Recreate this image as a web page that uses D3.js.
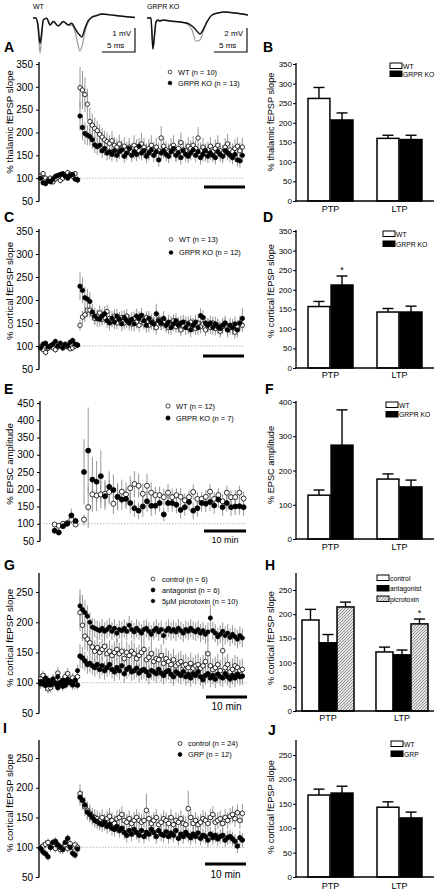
<!DOCTYPE html>
<html><head><meta charset="utf-8">
<script src="https://cdn.jsdelivr.net/npm/d3@7"></script>
<style>body{margin:0;background:#fff}svg{display:block}</style>
</head><body><svg id="c" width="440" height="892"></svg>
<script>
// ---------------- DATA ----------------
const barCategories = ["PTP", "LTP"];
const sampleIntervalMin = 0.6;           // time between sweeps (min)
const nBaseline = 16, nPost = 67;
const eBaseTimes = [-7, -6, -5, -4, -3, -2];   // panel E sampling (min)
const eNPost = 39;

// example traces (time in ms, voltage in mV)
const traceWT_t   = [0,0.45,0.76,1.06,1.29,1.56,2.08,2.58,3.08,3.83,4.59,5.35,5.86,6.36,6.8,7.1,7.4,7.88,8.33,8.94,9.7,10.45,11.7,13.2,14.7,15.45];
const traceWT_ctl = [0,0,-0.5,-1.46,-0.92,-0.08,-0.01,-0.29,-0.15,-0.33,-0.15,-0.29,-0.3,-0.55,-1.1,-1.37,-1.2,-0.58,-0.2,0.04,0.13,0.17,0.13,0.08,0.04,0.02];
const traceWT_ltp = [0,0,-0.3,-1.05,-0.67,-0.08,-0.01,-0.29,-0.15,-0.33,-0.15,-0.29,-0.22,-0.43,-0.63,-0.72,-0.79,-0.42,-0.13,0.04,0.1,0.17,0.13,0.08,0.04,0.02];
const traceKO_t   = [0,0.6,0.9,1.14,1.36,1.67,1.97,2.42,3.48,5,6.06,6.82,7.42,8.03,8.48,9.09,9.85,10.76,11.8,13.3,15.3];
const traceKO_ctl = [0,0,-2.58,-1.42,-0.33,-0.17,-0.25,-0.17,-0.25,-0.33,-0.5,-1.0,-1.92,-1.83,-1.17,-0.33,0.25,0.42,0.5,0.42,0.25];
const traceKO_ltp = [0,0,-2.58,-1.42,-0.33,-0.17,-0.25,-0.17,-0.25,-0.33,-0.42,-0.67,-1.0,-1.33,-1.0,-0.33,0.25,0.42,0.5,0.42,0.25];

// Panel A (% thalamic fEPSP slope)
const A_wt_base = [104,110,100,96,100,92,98,102,95,100,106,112,108,104,110,97];
const A_wt_post = [298,293,283,262,224,216,209,204,196,190, 184,180,176,182,172,168,175,165,170,162, 168,158,172,165,160,175,168,158,165,172,
  162,168,160,188,170,162,158,168,172,155, 165,178,162,160,170,165,172,165,188,160, 168,155,162,170,158,165,172,160,155,168, 175,162,158,165,170,160,168];
const A_wt_err = [8,6,7,8,6,7,8,6,7,8,6,7,8,7,6,8,
  45,42,38,34,30,26,24,22,22,20, 20,20,18,22,18,18,20,18,20,18, 20,18,22,20,18,24,20,18,20,22, 18,20,18,26,20,18,18,20,22,18,
  20,22,18,18,20,18,20,18,24,18, 20,18,18,20,18,20,22,18,18,20, 22,18,18,20,20,18,20];
const A_ko_base = [100,90,88,94,92,98,104,106,108,110,104,100,106,108,98,96];
const A_ko_post = [236,211,198,194,191,184,173,169,172,160, 165,155,158,152,160,150,158,162,148,155, 165,150,158,152,170,155,160,148,155,162,
  150,158,140,155,160,152,148,158,165,150, 155,145,160,152,148,155,162,150,158,145, 152,160,148,155,150,145,158,152,148,160, 155,150,145,152,140,138,150];
const A_ko_err = [6,5,6,5,6,5,6,5,6,5,6,5,6,5,6,5,
  32,28,24,22,20,20,18,18,18,16, 16,16,16,15,16,15,16,16,15,16, 16,15,16,15,18,16,16,15,16,16, 15,16,15,16,16,15,15,16,16,15,
  16,15,16,16,15,16,16,15,16,15, 16,16,15,16,15,15,16,16,15,16, 16,15,15,16,15,15,16];
const B_wt = [262, 160], B_wt_err = [28, 8];
const B_ko = [207, 157], B_ko_err = [18, 11];

// Panel C (% cortical fEPSP slope)
const C_wt_base = [98,92,86,95,100,96,92,98,102,96,100,98,94,96,100,102];
const C_wt_post = [145,163,168,178,178,170,160,165,172,158, 162,175,160,155,165,150,158,162,150,165, 155,148,160,152,145,158,150,162,145,155,
  150,140,158,148,152,145,140,150,155,142, 148,135,145,150,140,152,145,138,150,142, 148,135,145,140,150,138,145,132,142,148, 135,140,145,130,142,148,145];
const C_wt_err = [6,6,7,6,6,6,7,6,6,6,6,7,6,6,6,6,
  12,14,16,16,16,15,14,14,16,14, 14,15,14,14,15,14,14,15,14,15, 14,14,15,14,14,15,14,14,15,14, 14,15,14,14,15,14,14,15,14,14,
  15,14,14,15,14,14,15,14,14,15, 14,14,15,14,14,15,14,14,15,14, 14,15,14,14,15,14,15];
const C_ko_base = [96,104,106,98,100,104,110,100,106,96,104,100,108,112,104,102];
const C_ko_post = [230,221,205,202,197,174,165,160,158,165, 170,155,150,160,152,165,158,148,162,155, 150,158,148,165,160,167,155,145,160,152,
  148,170,155,150,160,145,152,140,148,155, 145,150,152,140,148,135,145,152,140,166, 162,150,145,150,140,148,142,138,145,150, 135,145,140,148,135,150,160];
const C_ko_err = [6,6,6,6,6,6,6,6,6,6,6,6,6,6,6,6,
  30,28,24,22,20,18,18,18,16,16, 16,16,16,16,16,16,16,16,16,16, 16,16,16,16,16,16,16,16,16,16, 16,22,16,16,16,16,16,16,16,16,
  16,16,16,16,16,16,16,16,16,16, 16,16,16,16,16,16,16,16,16,16, 16,16,16,16,16,16,22];
const D_wt = [157, 143], D_wt_err = [13, 9];
const D_ko = [212, 143], D_ko_err = [23, 15];

// Panel E (% EPSC amplitude)
const E_wt_vals = [98,94,100,102,112,98,
  112,148,185,182,185,187,192,158,178,193, 185,203,215,210,187,210,190,183,183,177, 190,177,183,178,168,177,192,172,172,178, 193,172,183,165,190,177,177,190,173];
const E_wt_err = [5,5,5,5,12,8,
  15,60,50,45,40,40,35,30,35,35, 35,35,38,35,30,35,30,25,25,25, 25,25,20,25,20,20,22,20,20,20, 22,20,20,20,20,20,20,20,20];
const E_ko_vals = [80,75,93,100,124,108,
  250,312,228,222,238,180,207,198,178,170, 172,160,145,138,150,165,152,152,160,127, 160,160,155,140,148,163,138,145,160,158, 163,153,170,148,160,148,150,151,148];
const E_ko_err = [10,10,8,8,20,10,
  95,125,65,60,75,40,45,45,40,30, 30,30,25,25,30,30,30,25,25,20, 25,25,25,25,25,25,25,25,25,25, 25,25,25,25,25,25,25,25,25];
const F_wt = [128, 175], F_wt_err = [15, 15];
const F_ko = [274, 152], F_ko_err = [103, 20];

// Panel G
const G_ctl_base = [106,112,96,90,92,98,104,116,100,96,110,115,104,108,98,110];
const G_ctl_post = [216,195,177,172,166,159,152,158,150,155, 160,148,152,145,150,155,148,152,140,150, 145,152,148,140,145,150,155,138,142,148,
  135,140,138,145,132,140,135,130,138,128, 132,135,128,130,125,132,124,128,130,124, 128,135,148,128,122,125,130,120,153,125, 130,118,122,128,125,120,122];
const G_ctl_err = [8,8,9,8,8,9,8,10,8,8,9,10,8,8,9,8,
  30,26,22,20,20,18,18,18,18,18, 18,18,18,18,18,18,18,18,18,18, 18,18,18,18,18,18,18,18,18,18, 18,18,18,18,18,18,18,18,18,18,
  18,18,18,18,18,18,18,18,18,18, 18,18,24,18,18,18,18,18,24,18, 18,18,18,18,18,18,18];
const G_ant_base = [102,98,96,104,100,106,98,92,100,104,96,100,102,98,104,96];
const G_ant_post = [144,141,136,130,132,128,125,130,122,128, 120,125,130,122,118,125,120,128,115,122, 125,118,120,124,116,120,122,118,112,120,
  118,115,122,116,112,118,120,114,110,118, 115,112,118,110,114,108,115,112,118,110, 105,112,115,108,112,106,114,110,108,115, 110,106,112,108,114,110,111];
const G_ant_err = [7,7,8,7,7,8,7,7,8,7,7,8,7,7,8,7,
  20,18,16,15,15,15,15,15,15,15, 15,15,15,15,15,15,15,15,15,15, 15,15,15,15,15,15,15,15,15,15, 15,15,15,15,15,15,15,15,15,15,
  15,15,15,15,15,15,15,15,15,15, 15,15,15,15,15,15,15,15,15,15, 15,15,15,15,15,15,15];
const G_pic_base = [98,102,108,100,96,104,100,110,98,94,102,106,100,96,104,120];
const G_pic_post = [227,221,216,210,200,192,190,188,186,190, 185,188,192,185,190,182,188,186,190,185, 195,188,184,190,186,182,188,190,185,180,
  186,190,184,188,178,186,190,185,188,184, 190,186,182,188,185,190,186,184,188,182, 186,180,184,207,186,182,176,180,185,178, 182,175,180,176,172,178,174];
const G_pic_err = [8,8,8,8,8,8,8,8,8,8,8,8,8,8,8,10,
  28,24,20,18,16,15,15,15,15,15, 15,15,15,15,15,15,15,15,15,15, 15,15,15,15,15,15,15,15,15,15, 15,15,15,15,15,15,15,15,15,15,
  15,15,15,15,15,15,15,15,15,15, 15,15,15,22,15,15,15,15,15,15, 15,15,15,15,15,15,15];
const H_ctl = [188, 122], H_ctl_err = [22, 10];
const H_ant = [141, 116], H_ant_err = [17, 10];
const H_pic = [215, 180], H_pic_err = [10, 10];

// Panel I
const I_ctl_base = [98,102,105,108,100,104,98,102,96,100,104,98,106,100,104,100];
const I_ctl_post = [190,179,168,162,157,152,150,148,145,150, 142,148,152,145,140,148,150,155,145,142, 148,140,145,150,145,142,145,162,148,140,
  145,150,138,142,148,145,140,150,138,145, 142,148,140,138,165,150,140,145,138,142, 148,145,140,150,155,142,145,148,140,150, 145,152,155,148,158,145,157];
const I_ctl_err = [7,7,7,7,7,7,7,7,7,7,7,7,7,7,7,7,
  16,16,15,15,15,14,14,14,14,14, 14,14,14,14,14,14,14,14,14,14, 14,14,14,14,14,14,14,28,14,14, 14,14,14,14,14,14,14,14,14,14,
  14,14,14,14,30,14,14,14,14,14, 14,14,14,14,14,14,14,14,14,14, 14,14,14,14,14,14,16];
const I_grp_base = [98,92,89,84,100,108,110,104,100,96,108,115,100,90,87,97];
const I_grp_post = [184,179,171,159,155,150,145,143,140,138, 142,135,138,132,130,135,128,132,125,120, 128,122,130,125,120,128,118,125,122,130,
  125,118,128,122,120,126,118,124,120,128, 115,122,118,125,120,116,122,118,124,115, 120,118,112,122,116,120,114,118,120,112, 116,118,114,110,102,116,112];
const I_grp_err = [7,7,7,7,7,7,7,7,7,7,7,7,7,7,7,7,
  14,14,13,13,12,12,12,12,12,12, 12,12,12,12,12,12,12,12,12,12, 12,12,12,12,12,12,12,12,12,12, 12,12,12,12,12,12,12,12,12,12,
  12,12,12,12,12,12,12,12,12,12, 12,12,12,12,12,12,12,12,12,12, 12,12,12,12,12,12,12];
const J_wt = [168, 143], J_wt_err = [12, 11];
const J_grp = [172, 121], J_grp_err = [14, 12];

// ---------------- DRAWING ----------------
const FONT = '"Liberation Sans", Arial, Helvetica, sans-serif';
const svg = d3.select("#c");
const defs = svg.append("defs");
const pat = defs.append("pattern").attr("id","hatch").attr("patternUnits","userSpaceOnUse").attr("width",3).attr("height",3);
pat.append("rect").attr("width",3).attr("height",3).attr("fill","#e4e4e4");
pat.append("path").attr("d","M0,3 L3,0 M-1,1 L1,-1 M2,4 L4,2").attr("stroke","#8a8a8a").attr("stroke-width",0.9);

function txt(g, x, y, s, size, opt = {}) {
  const t = g.append("text").attr("x", x).attr("y", y).text(s)
    .attr("font-family", FONT).attr("font-size", size).attr("fill", "#000");
  if (opt.anchor) t.attr("text-anchor", opt.anchor);
  if (opt.bold) t.attr("font-weight", "bold");
  if (opt.rot) t.attr("transform", `rotate(-90,${x},${y})`);
  return t;
}

function yAxis(g, scale, ticks, axisX, axisTop, fs, pad) {
  const ax = d3.axisLeft(scale).tickValues(ticks).tickSize(3).tickPadding(pad).tickSizeOuter(0);
  const a = g.append("g").attr("transform", `translate(${axisX},0)`).call(ax);
  a.select(".domain").remove();
  a.selectAll("line").attr("stroke", "#000").attr("stroke-width", 1);
  a.selectAll("text").attr("font-family", FONT).attr("font-size", fs).attr("fill", "#000");
  g.append("line").attr("x1", axisX).attr("x2", axisX)
    .attr("y1", axisTop).attr("y2", scale(scale.domain()[0]) + 0.5)
    .attr("stroke", "#000").attr("stroke-width", 1.3);
}

// ---- example traces ----
(function () {
  const g = svg.append("g");
  const panels = [
    { t: traceWT_t, ctl: traceWT_ctl, ltp: traceWT_ltp, x0: 33, mvPx: 24, label: "WT", mv: "1 mV", mvVal: 1, barX: 135 },
    { t: traceKO_t, ctl: traceKO_ctl, ltp: traceKO_ltp, x0: 147, mvPx: 12, label: "GRPR KO", mv: "2 mV", mvVal: 2, barX: 247 }
  ];
  panels.forEach(p => {
    const x = d3.scaleLinear().domain([0, 5]).range([p.x0, p.x0 + 33]);
    const y = d3.scaleLinear().domain([0, -1]).range([18, 18 + p.mvPx]);
    const line = d3.line().x((d, i) => x(p.t[i])).y(d => y(d)).curve(d3.curveMonotoneX);
    g.append("path").attr("d", line(p.ctl)).attr("fill", "none").attr("stroke", "#9a9a9a").attr("stroke-width", 1.2);
    g.append("path").attr("d", line(p.ltp)).attr("fill", "none").attr("stroke", "#111").attr("stroke-width", 1.5);
    txt(g, p.x0, 9, p.label, 7);
    const by = 52;
    const len5 = x(5) - x(0);
    const lenMv = y(-p.mvVal) - y(0);
    g.append("path").attr("d", `M${p.barX - len5},${by} H${p.barX} V${by - lenMv}`)
      .attr("fill", "none").attr("stroke", "#000").attr("stroke-width", 1.1);
    txt(g, p.barX - 4, 36, p.mv, 8, { anchor: "end" });
    txt(g, p.barX - len5 + 5, 48, "5 ms", 8);
  });
})();

// ---- time-course panels ----
const baseTimes = d3.range(nBaseline).map(i => -sampleIntervalMin * (nBaseline - i));
const postTimes = d3.range(nPost).map(i => sampleIntervalMin * i);
const stdTimes = baseTimes.concat(postTimes);
const eTimes = eBaseTimes.concat(d3.range(eNPost));

function timecourse(p) {
  const g = svg.append("g");
  const y = d3.scaleLinear().domain(p.yDomain).range(p.yRange);
  const x = d3.scaleLinear().domain([0, 10]).range([p.x0, p.x0 + p.px10]);
  yAxis(g, y, p.ticks, p.axisX, p.axisTop, p.tickFs, 3);
  g.append("line").attr("x1", p.dot[0]).attr("x2", p.dot[1]).attr("y1", y(100)).attr("y2", y(100))
    .attr("stroke", "#a8a8a8").attr("stroke-width", 0.8).attr("stroke-dasharray", "1.5,1.5");
  const pts = p.series.map(s => s.vals.map((v, i) => ({ t: p.times[i], v, e: s.err[i] ?? 0 })));
  p.series.forEach((s, k) => {
    g.append("g").selectAll("line").data(pts[k]).join("line")
      .attr("x1", d => x(d.t)).attr("x2", d => x(d.t))
      .attr("y1", d => y(d.v - d.e)).attr("y2", d => y(d.v + d.e))
      .attr("stroke", "#8c8c8c").attr("stroke-width", 0.9);
  });
  p.series.forEach((s, k) => {
    g.append("g").selectAll("circle").data(pts[k]).join("circle")
      .attr("cx", d => x(d.t)).attr("cy", d => y(d.v)).attr("r", s.r || p.r)
      .attr("fill", s.filled ? "#000" : "#fff").attr("stroke", "#000").attr("stroke-width", 0.8);
  });
  // legend
  p.series.forEach((s, k) => {
    const ly = p.leg[1] + k * p.legStep;
    g.append("circle").attr("cx", p.leg[0]).attr("cy", ly).attr("r", (s.r || p.r) * 0.85)
      .attr("fill", s.filled ? "#000" : "#fff").attr("stroke", "#000").attr("stroke-width", 0.7);
    txt(g, p.leg[0] + p.legGap, ly + 2.6, s.label, 7.4);
  });
  // scale bar
  const L = x(10) - x(0);
  g.append("line").attr("x1", p.bar[0] - L).attr("x2", p.bar[0]).attr("y1", p.bar[1]).attr("y2", p.bar[1])
    .attr("stroke", "#000").attr("stroke-width", 3);
  if (p.barLabel) txt(g, p.bar[0] - L / 2, p.barLabel[0], "10 min", p.barLabel[1], { anchor: "middle" });
  txt(g, 13, p.ylabY, p.ylabel, 9.6, { anchor: "middle", rot: true });
  txt(g, p.letter[0], p.letter[1], p.letter[2], 14, { bold: true });
}

function series(base, post) { return base.concat(post); }

timecourse({ yDomain: [50, 350], yRange: [201, 64], ticks: d3.range(50, 351, 50), axisX: 39, axisTop: 62, tickFs: 10,
  x0: 80, px10: 41, times: stdTimes, r: 2.2, dot: [77, 245],
  series: [
    { vals: series(A_wt_base, A_wt_post), err: A_wt_err, filled: false, label: "WT (n = 10)" },
    { vals: series(A_ko_base, A_ko_post), err: A_ko_err, filled: true, label: "GRPR KO (n = 13)" }],
  leg: [170, 72], legStep: 11, legGap: 8, bar: [245, 187], ylabel: "% thalamic fEPSP slope", ylabY: 122, letter: [4, 52, "A"] });

timecourse({ yDomain: [50, 350], yRange: [369, 231], ticks: d3.range(50, 351, 50), axisX: 39, axisTop: 229, tickFs: 10,
  x0: 80, px10: 41, times: stdTimes, r: 2.2, dot: [77, 244],
  series: [
    { vals: series(C_wt_base, C_wt_post), err: C_wt_err, filled: false, label: "WT (n = 13)" },
    { vals: series(C_ko_base, C_ko_post), err: C_ko_err, filled: true, label: "GRPR KO (n = 12)" }],
  leg: [171, 239.5], legStep: 13, legGap: 8, bar: [244, 356], ylabel: "% cortical fEPSP slope", ylabY: 291, letter: [4, 222, "C"] });

timecourse({ yDomain: [50, 450], yRange: [541, 403], ticks: d3.range(50, 451, 50), axisX: 40, axisTop: 401, tickFs: 10,
  x0: 84, px10: 42, times: eTimes, r: 2.5, dot: [43, 246],
  series: [
    { vals: E_wt_vals, err: E_wt_err, filled: false, label: "WT (n = 12)" },
    { vals: E_ko_vals, err: E_ko_err, filled: true, label: "GRPR KO (n = 7)" }],
  leg: [168, 406], legStep: 12, legGap: 8, bar: [246, 531], barLabel: [543, 9], ylabel: "% EPSC amplitude", ylabY: 464, letter: [4, 394, "E"] });

timecourse({ yDomain: [50, 250], yRange: [713, 592], ticks: d3.range(50, 251, 50), axisX: 39, axisTop: 573, tickFs: 10,
  x0: 80, px10: 41, times: stdTimes, r: 2.3, dot: [78, 247],
  series: [
    { vals: series(G_ctl_base, G_ctl_post), err: G_ctl_err, filled: false, label: "control (n = 6)" },
    { vals: series(G_ant_base, G_ant_post), err: G_ant_err, filled: true, label: "antagonist (n = 6)" },
    { vals: series(G_pic_base, G_pic_post), err: G_pic_err, filled: true, r: 2.1, label: "5µM picrotoxin (n = 10)" }],
  leg: [153, 579], legStep: 11, legGap: 9, bar: [247, 697], barLabel: [710, 10], ylabel: "% cortical fEPSP slope", ylabY: 638, letter: [4, 570, "G"] });

timecourse({ yDomain: [50, 250], yRange: [877, 758], ticks: d3.range(50, 251, 50), axisX: 39, axisTop: 740, tickFs: 10,
  x0: 80, px10: 41, times: stdTimes, r: 2.3, dot: [78, 246],
  series: [
    { vals: series(I_ctl_base, I_ctl_post), err: I_ctl_err, filled: false, label: "control (n = 24)" },
    { vals: series(I_grp_base, I_grp_post), err: I_grp_err, filled: true, label: "GRP (n = 12)" }],
  leg: [180, 743.5], legStep: 11, legGap: 8, bar: [246, 864], barLabel: [878, 10], ylabel: "% cortical fEPSP slope", ylabY: 803, letter: [3, 733, "I"] });

// ---- bar panels ----
function barPanel(p) {
  const g = svg.append("g");
  const y = d3.scaleLinear().domain([0, p.yMax]).range(p.yRange);
  const x = d3.scaleBand().domain(barCategories).range([296, 434]).paddingInner(p.pi).paddingOuter(p.po);
  const xi = d3.scaleBand().domain(p.series.map(s => s.label)).range([0, x.bandwidth()]).paddingInner(p.gap);
  p.series.forEach(s => {
    const gg = g.append("g");
    barCategories.forEach((c, i) => {
      const bx = x(c) + xi(s.label), bw = xi.bandwidth(), cx = bx + bw / 2;
      const top = y(s.vals[i] + s.err[i]);
      gg.append("line").attr("x1", cx).attr("x2", cx).attr("y1", y(s.vals[i])).attr("y2", top).attr("stroke", "#000").attr("stroke-width", 1.4);
      gg.append("line").attr("x1", cx - 5.5).attr("x2", cx + 5.5).attr("y1", top).attr("y2", top).attr("stroke", "#000").attr("stroke-width", 1.4);
      gg.append("rect").attr("x", bx).attr("y", y(s.vals[i])).attr("width", bw).attr("height", y(0) - y(s.vals[i]))
        .attr("fill", s.fill).attr("stroke", "#000").attr("stroke-width", 1.5);
      if (s.star && s.star[i]) txt(gg, cx, top - 3, "*", 9, { anchor: "middle" });
    });
  });
  yAxis(g, y, p.ticks, 296, p.axisTop, 8, 1);
  g.append("line").attr("x1", 295.5).attr("x2", 434).attr("y1", y(0)).attr("y2", y(0)).attr("stroke", "#000").attr("stroke-width", 1.3);
  barCategories.forEach(c => txt(g, x(c) + x.bandwidth() / 2, p.catY, c, 9, { anchor: "middle" }));
  p.series.forEach((s, k) => {
    const ly = p.leg[1] + k * p.legStep;
    g.append("rect").attr("x", p.leg[0]).attr("y", ly).attr("width", 12).attr("height", 5.5)
      .attr("fill", s.fill).attr("stroke", "#000").attr("stroke-width", 1);
    txt(g, p.leg[0] + 13, ly + 5.5, s.label, 6.8);
  });
  txt(g, 274, p.ylabY, p.ylabel, 9.2, { anchor: "middle", rot: true });
  txt(g, p.letter[0], p.letter[1], p.letter[2], 14, { bold: true });
}

const twoBar = { pi: 0.348, po: 0.174, gap: 0.05 };
barPanel({ ...twoBar, yMax: 350, yRange: [201, 64], ticks: d3.range(0, 351, 50), axisTop: 63, catY: 212,
  series: [{ label: "WT", vals: B_wt, err: B_wt_err, fill: "#fff" }, { label: "GRPR KO", vals: B_ko, err: B_ko_err, fill: "#000" }],
  leg: [390, 63], legStep: 8, ylabel: "% thalamic fEPSP slope", ylabY: 122, letter: [263, 52, "B"] });
barPanel({ ...twoBar, yMax: 350, yRange: [368, 231], ticks: d3.range(0, 351, 50), axisTop: 230, catY: 378,
  series: [{ label: "WT", vals: D_wt, err: D_wt_err, fill: "#fff" }, { label: "GRPR KO", vals: D_ko, err: D_ko_err, fill: "#000", star: [true, false] }],
  leg: [383, 231], legStep: 10, ylabel: "% cortical fEPSP slope", ylabY: 291, letter: [263, 222, "D"] });
barPanel({ ...twoBar, yMax: 400, yRange: [539, 402], ticks: d3.range(0, 401, 100), axisTop: 401, catY: 550,
  series: [{ label: "WT", vals: F_wt, err: F_wt_err, fill: "#fff" }, { label: "GRPR KO", vals: F_ko, err: F_ko_err, fill: "#000" }],
  leg: [386, 402], legStep: 9.5, ylabel: "% EPSC amplitude", ylabY: 465, letter: [265, 394, "F"] });
barPanel({ pi: 0.297, po: 0.081, gap: 0.03, yMax: 250, yRange: [711, 590], ticks: d3.range(0, 251, 50), axisTop: 573, catY: 721,
  series: [{ label: "control", vals: H_ctl, err: H_ctl_err, fill: "#fff" }, { label: "antagonist", vals: H_ant, err: H_ant_err, fill: "#000" },
           { label: "picrotoxin", vals: H_pic, err: H_pic_err, fill: "url(#hatch)", star: [false, true] }],
  leg: [377, 575], legStep: 10.5, ylabel: "% cortical fEPSP slope", ylabY: 638, letter: [265, 570, "H"] });
barPanel({ ...twoBar, yMax: 250, yRange: [877, 755], ticks: d3.range(0, 251, 50), axisTop: 740, catY: 889,
  series: [{ label: "WT", vals: J_wt, err: J_wt_err, fill: "#fff" }, { label: "GRP", vals: J_grp, err: J_grp_err, fill: "#000" }],
  leg: [391, 741], legStep: 10, ylabel: "% cortical fEPSP slope", ylabY: 807, letter: [268, 735, "J"] });
</script></body></html>
